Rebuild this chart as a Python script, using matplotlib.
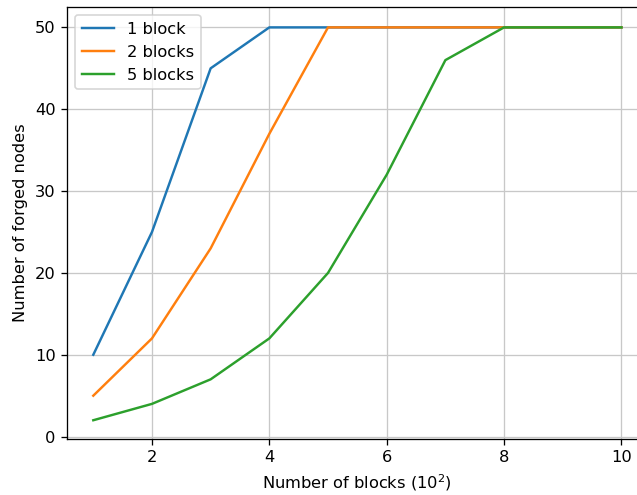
import numpy as np
from matplotlib import pyplot as plt

x = [1, 2, 3, 4, 5, 6, 7, 8, 9, 10]
one_block = [10, 25, 45, 50, 50, 50, 50, 50, 50, 50]
two_blocks = [5, 12, 23, 37, 50, 50, 50, 50, 50, 50]
five_blocks = [2, 4, 7, 12, 20, 32, 46, 50, 50, 50]

dpi = 117
fig = plt.figure(figsize=(637 / dpi, 495 / dpi), dpi=dpi)
ax = fig.add_axes([0.105, 0.113, 0.912, 0.873])

ax.plot(x, one_block, label='1 block')
ax.plot(x, two_blocks, label='2 blocks')
ax.plot(x, five_blocks, label='5 blocks')

ax.set_ylim(-0.3, 52.5)
ax.grid(True, color='#c8c8c8')
ax.legend(loc='upper left')
ax.set_xlabel('Number of blocks ($10^2$)')
ax.set_ylabel('Number of forged nodes')

plt.savefig('out.png', dpi=dpi)
